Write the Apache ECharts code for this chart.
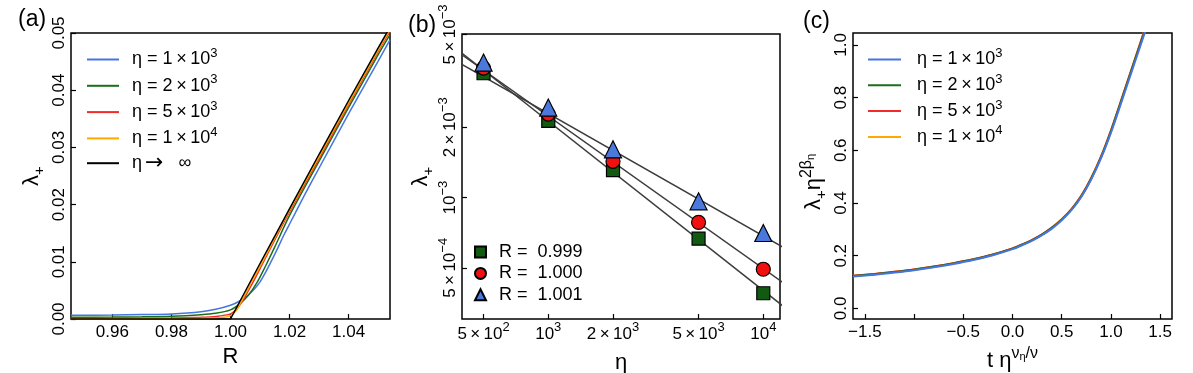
<!DOCTYPE html>
<html><head><meta charset="utf-8">
<script src="https://cdn.jsdelivr.net/npm/echarts@6/dist/echarts.min.js"></script>
<style>html,body{margin:0;padding:0;background:#fff}#c{width:1193px;height:373px}</style>
</head><body><div id="c"></div>
<script>
const FF = '"Liberation Sans", Arial, Helvetica, sans-serif';

// ---------- Panel (a): lambda+ vs R ----------
const aBlueR   = [0.946, 0.96, 0.97, 0.98, 0.99, 0.995, 1.0, 1.003, 1.006, 1.008, 1.010, 1.012, 1.014, 1.016, 1.018, 1.0204, 1.025, 1.03, 1.04, 1.05, 1.054];
const aBlueL   = [0.00065, 0.00070, 0.00077, 0.00088, 0.00125, 0.0017, 0.0024, 0.0031, 0.0042, 0.0052, 0.0065, 0.0083, 0.0103, 0.0124, 0.0146, 0.0170, 0.0216, 0.0264, 0.0359, 0.0451, 0.0488];
const aGreenR  = [0.946, 0.96, 0.97, 0.98, 0.99, 0.995, 1.0, 1.003, 1.006, 1.009, 1.012, 1.015, 1.02, 1.03, 1.04, 1.05, 1.054];
const aGreenL  = [0.00030, 0.00033, 0.00038, 0.00048, 0.00075, 0.00100, 0.0016, 0.0026, 0.0041, 0.0064, 0.0094, 0.0126, 0.0181, 0.0276, 0.0370, 0.0462, 0.0497];
const aRedR    = [0.946, 0.97, 0.98, 0.99, 0.995, 1.0, 1.002, 1.004, 1.006, 1.008, 1.010, 1.0186, 1.03, 1.04, 1.05, 1.054];
const aRedL    = [0.00010, 0.00013, 0.00017, 0.00030, 0.00045, 0.0009, 0.0017, 0.0031, 0.0049, 0.0068, 0.0088, 0.0174, 0.0281, 0.0375, 0.0468, 0.0503];
const aOrangeR = [0.946, 0.97, 0.99, 0.997, 1.0, 1.002, 1.004, 1.006, 1.008, 1.010, 1.0183, 1.03, 1.04, 1.05, 1.054];
const aOrangeL = [0.00005, 0.00007, 0.00013, 0.00025, 0.0006, 0.0015, 0.0034, 0.0053, 0.0073, 0.0092, 0.0174, 0.0284, 0.0378, 0.0470, 0.0506];
const aBlackR  = [0.946, 1.0, 1.01, 1.02, 1.03, 1.04, 1.05, 1.054];
const aBlackL  = [0, 0, 0.0097, 0.0193, 0.0288, 0.0382, 0.0474, 0.0510];
const aXTicks  = [0.96, 0.98, 1.00, 1.02, 1.04];

// ---------- Panel (b): lambda+ vs eta (log-log) ----------
const bEta      = [500, 1000, 2000, 5000, 10000];
const bSquare   = [3.41e-3, 2.13e-3, 1.31e-3, 6.67e-4, 3.89e-4];   // R = 0.999
const bCircle   = [3.59e-3, 2.28e-3, 1.43e-3, 7.83e-4, 4.93e-4];   // R = 1.000
const bTriangle = [3.79e-3, 2.43e-3, 1.61e-3, 9.64e-4, 7.05e-4];   // R = 1.001
const bFitAt1e3 = [2.127e-3, 2.237e-3, 2.293e-3];   // fitted lambda at eta = 1e3
const bFitSlope = [-0.726, -0.654, -0.525];           // fitted exponents
const bFitEta   = [350, 13000];
const bXTickVals = [500, 1000, 2000, 5000, 10000];
const bXTickText = ['{m|5\u2009×\u200910}{s|2}', '{m|10}{s|3}', '{m|2\u2009×\u200910}{s|3}', '{m|5\u2009×\u200910}{s|3}', '{m|10}{s|4}'];
const bYTickVals = [5e-4, 1e-3, 2e-3, 5e-3];
const bYTickText = ['{m|5\u2009×\u200910}{s|−4}', '{m|10}{s|−3}', '{m|2\u2009×\u200910}{s|−3}', '{m|5\u2009×\u200910}{s|−3}'];
const bLegend    = ['R =  0.999', 'R =  1.000', 'R =  1.001'];

// ---------- Panel (c): scaling collapse ----------
const cX      = [-1.62, -1.4, -1.2, -1.0, -0.8, -0.6, -0.4, -0.2, 0.0, 0.1, 0.2, 0.3, 0.4, 0.5, 0.6, 0.7, 0.8, 0.9, 1.0, 1.1, 1.2, 1.3, 1.4];
const cOrange = [0.124, 0.131, 0.139, 0.148, 0.159, 0.172, 0.187, 0.205, 0.228, 0.243, 0.260, 0.281, 0.307, 0.339, 0.378, 0.429, 0.496, 0.578, 0.676, 0.786, 0.898, 1.010, 1.122];
const cRed    = [0.124, 0.131, 0.139, 0.148, 0.159, 0.172, 0.187, 0.205, 0.228, 0.243, 0.260, 0.281, 0.307, 0.338, 0.377, 0.428, 0.495, 0.577, 0.675, 0.785, 0.897, 1.009, 1.121];
const cGreen  = [0.123, 0.130, 0.138, 0.147, 0.158, 0.171, 0.186, 0.204, 0.227, 0.242, 0.259, 0.280, 0.306, 0.337, 0.376, 0.426, 0.493, 0.574, 0.672, 0.782, 0.894, 1.005, 1.117];
const cBlue   = [0.121, 0.128, 0.136, 0.145, 0.156, 0.169, 0.184, 0.202, 0.225, 0.240, 0.257, 0.278, 0.303, 0.335, 0.374, 0.424, 0.490, 0.571, 0.667, 0.776, 0.887, 0.998, 1.109];
const cXTicks = [-1.5, -1.0, -0.5, 0.0, 0.5, 1.0, 1.5];
const cXLabels = [-1.5, -0.5, 0.0, 0.5, 1.0, 1.5];
const cYTicks = [0.0, 0.2, 0.4, 0.6, 0.8, 1.0];

const etaNames = ['eta1e3', 'eta2e3', 'eta5e3', 'eta1e4', 'etaInf'];
const etaText  = ['{mp|η = 1\u2009×\u200910}{s|3}', '{mp|η = 2\u2009×\u200910}{s|3}', '{mp|η = 5\u2009×\u200910}{s|3}', '{mp|η = 1\u2009×\u200910}{s|4}', '{mp|η}{ar|→}{m|   ∞}'];
const colors   = { blue: '#4575e0', green: '#1b6e1b', red: '#f22a2a', orange: '#ffa800', black: '#000000' };

const zip = (xs, ys) => xs.map((x, i) => [x, ys[i]]);
const L10 = v => Math.log10(v);

const tickRich = {
  m: { fontSize: 17, lineHeight: 22, fontFamily: FF, color: '#000' },
  s: { fontSize: 13, lineHeight: 9, padding: [0, 0, 13, 0], fontFamily: FF, color: '#000' }
};
const nameRich = {
  n:   { fontSize: 22, lineHeight: 26, fontFamily: FF, color: '#000' },
  sub: { fontSize: 15, lineHeight: 11, padding: [15, 0, 0, 0], fontFamily: FF, color: '#000' },
  sup: { fontSize: 16, lineHeight: 12, padding: [0, 0, 14, 0], fontFamily: FF, color: '#000' },
  ss:  { fontSize: 11, lineHeight: 9, padding: [0, 0, 7, 0], fontFamily: FF, color: '#000' }
};
function legRich(pad) {
  return {
    mp: { fontSize: 18, lineHeight: 20, padding: [0, 0, 0, pad], fontFamily: FF, color: '#000' },
    m:  { fontSize: 18, lineHeight: 20, fontFamily: FF, color: '#000' },
    ar: { fontSize: 22, lineHeight: 20, padding: [0, 0, 0, 3], fontFamily: '"DejaVu Sans", sans-serif', color: '#000' },
    s:  { fontSize: 13, lineHeight: 8, padding: [0, 0, 12, 0], fontFamily: FF, color: '#000' }
  };
}

const baseTick = { show: true, inside: true, length: 5, lineStyle: { color: '#000', width: 1.2 } };
const noSplit = { show: false };
const noLine = { show: false, onZero: false };
const plainLabel = { fontSize: 17, fontFamily: FF, color: '#000' };
const gridCommon = { show: true, borderColor: '#000', borderWidth: 1.5, outerBoundsMode: 'none', containLabel: false };
const titleStyle = { fontSize: 23, fontWeight: 'normal', fontFamily: FF, color: '#000' };

function lineSeries(name, data, color, xi, yi, width, smooth) {
  return { type: 'line', name, data, xAxisIndex: xi, yAxisIndex: yi, showSymbol: false, symbol: 'none',
           smooth, lineStyle: { color, width }, itemStyle: { color }, clip: true, silent: true };
}

const series = [
  lineSeries('eta1e3', zip(aBlueR, aBlueL), colors.blue, 0, 0, 1.5, 0.3),
  lineSeries('eta2e3', zip(aGreenR, aGreenL), colors.green, 0, 0, 1.5, 0.3),
  lineSeries('eta5e3', zip(aRedR, aRedL), colors.red, 0, 0, 1.5, 0.25),
  lineSeries('eta1e4', zip(aOrangeR, aOrangeL), colors.orange, 0, 0, 1.5, 0.25),
  lineSeries('etaInf', zip(aBlackR, aBlackL), colors.black, 0, 0, 1.5, false),
];
// (b) fit lines
bFitAt1e3.forEach((a, i) => {
  series.push({ type: 'line', name: 'fit' + i, xAxisIndex: 1, yAxisIndex: 1, showSymbol: false, symbol: 'none',
    data: bFitEta.map(e => [e, a * Math.pow(e / 1000, bFitSlope[i])]),
    lineStyle: { color: '#3c3c3c', width: 1.5 }, clip: true, silent: true, z: 2 });
});
const bMarkers = [
  { name: bLegend[0], data: bSquare, symbol: 'rect', size: 13, color: '#125a12' },
  { name: bLegend[1], data: bCircle, symbol: 'circle', size: 14, color: '#f01010' },
  { name: bLegend[2], data: bTriangle, symbol: 'triangle', size: 17, color: '#4a78dc' }
];
bMarkers.forEach(m => {
  series.push({ type: 'scatter', name: m.name, xAxisIndex: 1, yAxisIndex: 1, symbol: m.symbol, symbolSize: m.size,
    data: zip(bEta, m.data), itemStyle: { color: m.color, borderColor: '#000', borderWidth: 1.2, opacity: 1 }, z: 3, silent: true });
});
// (c)
series.push(lineSeries('eta1e4', zip(cX, cOrange), colors.orange, 3, 3, 2, 0.3));
series.push(lineSeries('eta5e3', zip(cX, cRed), colors.red, 3, 3, 2, 0.3));
series.push(lineSeries('eta2e3', zip(cX, cGreen), colors.green, 3, 3, 2, 0.3));
series.push(lineSeries('eta1e3', zip(cX, cBlue), colors.blue, 3, 3, 2, 0.3));

const bXMin = 397, bXMax = 11960, bYMin = 3.017e-4, bYMax = 5.024e-3;

const option = {
  animation: false,
  backgroundColor: '#fff',
  title: [
    { text: '(a)', left: 18, top: 8, padding: 0, textStyle: titleStyle },
    { text: '(b)', left: 408, top: 14, padding: 0, textStyle: titleStyle },
    { text: '(c)', left: 803, top: 10, padding: 0, textStyle: titleStyle }
  ],
  grid: [
    Object.assign({ left: 71, top: 33, width: 319, height: 286 }, gridCommon),
    Object.assign({ left: 462, top: 34, width: 318, height: 285 }, gridCommon),
    Object.assign({ left: 853, top: 33, width: 319, height: 286 }, gridCommon)
  ],
  xAxis: [
    { type: 'value', gridIndex: 0, min: 0.946, max: 1.054, position: 'bottom', axisLine: noLine, splitLine: noSplit,
      axisTick: Object.assign({ customValues: aXTicks }, baseTick),
      axisLabel: Object.assign({ customValues: aXTicks, margin: 5, formatter: v => v.toFixed(2) }, plainLabel),
      name: 'R', nameLocation: 'middle', nameGap: 24, nameTextStyle: { fontSize: 22, fontFamily: FF, color: '#000' } },
    { type: 'log', gridIndex: 1, min: bXMin, max: bXMax, show: false, position: 'bottom', axisLine: noLine },
    { type: 'value', gridIndex: 1, min: L10(bXMin), max: L10(bXMax), position: 'bottom', axisLine: noLine, splitLine: noSplit,
      axisTick: Object.assign({ customValues: bXTickVals.map(L10) }, baseTick),
      axisLabel: { customValues: bXTickVals.map(L10), margin: 4, rich: tickRich,
        formatter: v => { const i = bXTickVals.findIndex(t => Math.abs(L10(t) - v) < 1e-4); return i >= 0 ? bXTickText[i] : ''; } },
      name: 'η', nameLocation: 'middle', nameGap: 16, nameTextStyle: { fontSize: 22, fontFamily: FF, color: '#000' } },
    { type: 'value', gridIndex: 2, min: -1.62, max: 1.62, position: 'bottom', axisLine: noLine, splitLine: noSplit,
      axisTick: Object.assign({ customValues: cXTicks }, baseTick),
      axisLabel: Object.assign({ customValues: cXLabels, margin: 5, formatter: v => v.toFixed(1).replace('-', '−') }, plainLabel),
      name: '{n|t η}{sup|ν}{ss|η}{sup|/ν}', nameLocation: 'middle', nameGap: 20, nameTextStyle: { rich: nameRich } }
  ],
  yAxis: [
    { type: 'value', gridIndex: 0, min: 0, max: 0.05, interval: 0.01, position: 'left', axisLine: noLine, splitLine: noSplit,
      axisTick: baseTick,
      axisLabel: Object.assign({ rotate: 90, margin: 3, formatter: v => v.toFixed(2) }, plainLabel),
      name: '{n|λ}{sub|+}', nameLocation: 'middle', nameRotate: 90, nameGap: 26, nameTextStyle: { rich: nameRich } },
    { type: 'log', gridIndex: 1, min: bYMin, max: bYMax, show: false, position: 'left', axisLine: noLine },
    { type: 'value', gridIndex: 1, min: L10(bYMin), max: L10(bYMax), position: 'left', axisLine: noLine, splitLine: noSplit,
      axisTick: Object.assign({ customValues: bYTickVals.map(L10) }, baseTick),
      axisLabel: { customValues: bYTickVals.map(L10), rotate: 90, margin: 1, rich: tickRich,
        formatter: v => { const i = bYTickVals.findIndex(t => Math.abs(L10(t) - v) < 1e-4); return i >= 0 ? bYTickText[i] : ''; } },
      name: '{n|λ}{sub|+}', nameLocation: 'middle', nameRotate: 90, nameGap: 26, nameTextStyle: { rich: nameRich } },
    { type: 'value', gridIndex: 2, min: -0.04, max: 1.045, position: 'left', axisLine: noLine, splitLine: noSplit,
      axisTick: Object.assign({ customValues: cYTicks }, baseTick),
      axisLabel: Object.assign({ customValues: cYTicks, rotate: 90, margin: 3, formatter: v => v.toFixed(1) }, plainLabel),
      name: '{n|λ}{sub|+}{n|η}{sup|2β}{ss|η}', nameLocation: 'middle', nameRotate: 90, nameGap: 26,
      nameTextStyle: { rich: nameRich, padding: [0, 12, 0, 0] } }
  ],
  legend: [
    { left: 87, top: 47, orient: 'vertical', padding: 0, itemGap: 1.3, itemWidth: 32, itemHeight: 2, icon: 'rect',
      data: etaNames, selectedMode: false,
      formatter: n => etaText[etaNames.indexOf(n)], textStyle: { rich: legRich(8) } },
    { left: 474, top: 243, orient: 'vertical', padding: 0, itemGap: 3.4, itemWidth: 11, itemHeight: 11,
      data: bLegend, selectedMode: false,
      formatter: n => '{mp|' + n + '}', textStyle: { rich: legRich(8) } },
    { left: 868, top: 47, orient: 'vertical', padding: 0, itemGap: 0.8, itemWidth: 33, itemHeight: 2, icon: 'rect',
      data: etaNames.slice(0, 4), selectedMode: false,
      formatter: n => etaText[etaNames.indexOf(n)], textStyle: { rich: legRich(11) } }
  ],
  series
};

const chart = echarts.init(document.getElementById('c'), null, { renderer: 'canvas' });
chart.setOption(option);
</script>
</body></html>
